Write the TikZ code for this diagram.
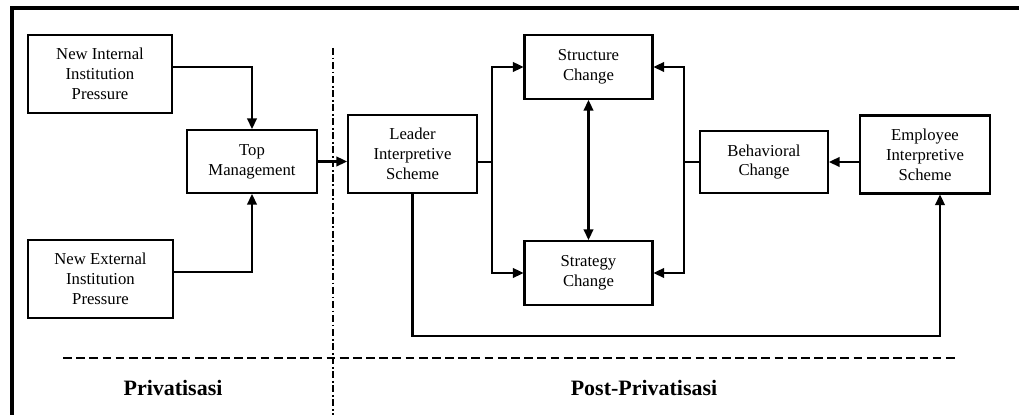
\documentclass[tikz,border=0pt]{standalone}
\usepackage{fontspec}
\setmainfont{Liberation Serif}
\usetikzlibrary{arrows.meta}
\begin{document}
\begin{tikzpicture}[x=0.02cm,y=-0.02cm,
  box/.style={draw,line width=1.2pt,rectangle,inner sep=0pt,align=center,
    font=\fontsize{9.5}{11.3}\selectfont},
  arr/.style={line width=1.2pt,-{Triangle[length=6pt,width=5.5pt]}},
  dbl/.style={line width=1.2pt,{Triangle[length=6pt,width=5.5pt]}-{Triangle[length=6pt,width=5.5pt]}},
  conn/.style={line width=0.8pt},
  sep/.style={line width=0.6pt,dash pattern=on 5pt off 2.5pt},
  sepv/.style={line width=0.6pt,dash pattern=on 4pt off 1.5pt on 1pt off 1.5pt},
  frame/.style={line width=2pt},
  phase/.style={font=\bfseries\fontsize{12.5}{14}\selectfont}]
\useasboundingbox (0,0) rectangle (1019,415);
% frame
\draw[frame] (12,415) -- (12,8) -- (1019,8);
% separators
\draw[sepv] (333,48) -- (333,415);
\draw[sep] (63,358) -- (957,358);
% nodes
\node[box,minimum width=2.88cm,minimum height=1.56cm] (intern) at (100,74) {New Internal\\Institution\\Pressure};
\node[box,minimum width=2.6cm,minimum height=1.26cm] (top) at (252,161.5) {Top\\Management};
\node[box,minimum width=2.9cm,minimum height=1.56cm] (extern) at (100.5,279) {New External\\Institution\\Pressure};
\node[box,minimum width=2.58cm,minimum height=1.56cm] (leader) at (412.5,154) {Leader\\Interpretive\\Scheme};
\node[box,minimum width=2.56cm,minimum height=1.28cm] (struct) at (588.5,67) {Structure\\Change};
\node[box,minimum width=2.56cm,minimum height=1.28cm] (strat) at (588.5,273) {Strategy\\Change};
\node[box,minimum width=2.56cm,minimum height=1.24cm] (behav) at (764,162) {Behavioral\\Change};
\node[box,minimum width=2.6cm,minimum height=1.56cm] (employee) at (925,154.5) {Employee\\Interpretive\\Scheme};
\node[phase] (priv) at (173,388) {Privatisasi};
\node[phase] (post) at (644,388) {Post-Privatisasi};
% junctions
\coordinate (j1) at (492,162);
\coordinate (j2) at (684,162);
\coordinate (c3) at (940,336);
% connectors
\draw[arr] (intern.east |- 0,67) -| (top.north);
\draw[arr] (extern.east |- 0,272) -| (top.south);
\draw[arr] (top.east) -- (top.east -| leader.west);
\draw[conn] (leader.east |- j1) -- (j1);
\draw[arr] (j1) |- (struct.west);
\draw[arr] (j1) |- (strat.west);
\draw[dbl] (struct.south) -- (strat.north);
\draw[arr] (employee.west |- behav.east) -- (behav.east);
\draw[conn] (behav.west) -- (j2);
\draw[arr] (j2) |- (struct.east);
\draw[arr] (j2) |- (strat.east);
\draw[arr] (leader.south) |- (c3) -- (c3 |- employee.south);
\end{tikzpicture}
\end{document}
